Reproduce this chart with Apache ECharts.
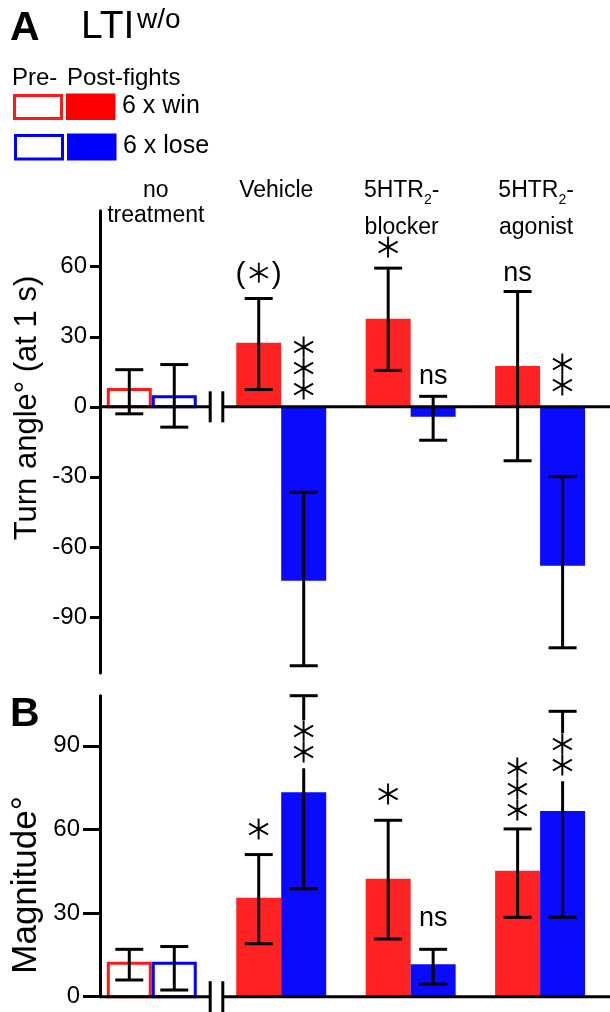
<!DOCTYPE html>
<html><head><meta charset="utf-8">
<script src="https://cdn.jsdelivr.net/npm/echarts@6/dist/echarts.min.js"></script>
<style>html,body{margin:0;padding:0;background:#fff}#c{width:610px;height:1012px}</style>
</head><body><div id="c"></div>
<script>
// ---------- data ----------
const categories = ['no\ntreatment', 'Vehicle', '5HTR₂-\nblocker', '5HTR₂-\nagonist'];
// Panel A: turn angle (deg, at 1 s); group 0 = pre-fights, others post-fights
const turnWin      = [8.1, 27.4, 37.7, 17.5];
const turnWinLow   = [-3.0, 7.4, 15.6, -23.1];
const turnWinHigh  = [15.9, 46.4, 59.4, 49.4];
const turnLose     = [5.0, -74.5, -4.3, -68.1];
const turnLoseLow  = [-8.7, -110.9, -14.3, -103.2];
const turnLoseHigh = [18.1, -36.6, 4.5, -29.9];
const turnWinSig   = ['', '(∗)', '∗', 'ns'];
const turnLoseSig  = ['', '∗\n∗\n∗', 'ns', '∗\n∗'];
const turnWinSigAt = [null, 56.5, 67.2, 57.0];
const turnLoseSigAt= [null, 15.6, 13.1, 12.9];
// Panel B: magnitude (deg)
const magWin      = [12.5, 35.5, 42.3, 45.2];
const magWinLow   = [6.0, 19.0, 20.7, 28.5];
const magWinHigh  = [17.0, 51.0, 63.3, 60.2];
const magLose     = [12.5, 73.4, 11.6, 66.6];
const magLoseLow  = [2.4, 38.7, 4.5, 28.5];
const magLoseHigh = [18.0, 108.0, 17.0, 102.4];
const magWinSig   = ['', '∗', '∗', '∗\n∗\n∗'];
const magLoseSig  = ['', '∗\n∗', 'ns', '∗\n∗'];
const magWinSigAt = [null, 59.2, 71.7, 73.6];
const magLoseSigAt= [null, 90.6, 27.9, 85.9];
const turnTicks = [-90, -60, -30, 0, 30, 60];
const magTicks  = [0, 30, 60, 90];

// ---------- style ----------
const RED = '#ff2222', BLUE = '#0a0aff';
const FONT = '"Liberation Sans", Arial, "DejaVu Sans", sans-serif';
const STAR_FONT = '"DejaVu Sans ExtraLight", "DejaVu Sans", sans-serif';
const XMIN = -0.4, XMAX = 3.54, BAR_UNITS = 0.3475, CAP = 14, BREAK_AT = 0.5;
const LABEL_NUDGE = [4, -5, -9, -4];

function buildData(win, winLo, winHi, lose, loseLo, loseHi) {
  const d = [];
  for (let i = 0; i < categories.length; i++) {
    d.push([i, 0, win[i], winLo[i], winHi[i]]);
    d.push([i, 1, lose[i], loseLo[i], loseHi[i]]);
  }
  return d;
}

function sigStyle(t) {
  if (t.indexOf('ns') >= 0) return {text: t, fontSize: 27, lineHeight: 26, family: FONT, weight: 'normal', lw: 0};
  if (t.indexOf('(') >= 0) return {text: '(' + '{st|∗}' + ')', fontSize: 30, lineHeight: 30, family: FONT, weight: 'normal', lw: 0};
  return {text: t, fontSize: 44, lineHeight: 21, family: STAR_FONT, weight: 200, lw: 0.9};
}

function barRenderer(sigs, sigAts) {
  return function (params, api) {
    const g = api.value(0), side = api.value(1), v = api.value(2), lo = api.value(3), hi = api.value(4);
    const bw = api.size([BAR_UNITS, 0])[0];
    const base = api.coord([g, 0]);
    const x0 = side === 0 ? base[0] - bw : base[0];
    const pv = api.coord([g, v]);
    const top = Math.min(pv[1], base[1]), h = Math.abs(pv[1] - base[1]);
    const color = side === 0 ? RED : BLUE;
    const cx = x0 + bw / 2;
    const yl = api.coord([g, lo])[1], yh = api.coord([g, hi])[1];
    const ch = [];
    if (g === 0) {
      ch.push({type: 'rect', shape: {x: x0 + 1.5, y: top + 1.5, width: bw - 3, height: h - 1.5},
        style: {fill: '#fff', stroke: side === 0 ? '#ff1a1a' : '#0000ff', lineWidth: 3}});
    } else {
      ch.push({type: 'rect', shape: {x: x0, y: top, width: bw, height: h}, style: {fill: color}});
    }
    const ls = {stroke: '#000', lineWidth: 3};
    ch.push({type: 'line', shape: {x1: cx, y1: yl, x2: cx, y2: yh}, style: ls});
    ch.push({type: 'line', shape: {x1: cx - CAP, y1: yl, x2: cx + CAP, y2: yl}, style: ls});
    ch.push({type: 'line', shape: {x1: cx - CAP, y1: yh, x2: cx + CAP, y2: yh}, style: ls});
    const s = sigs[side][g];
    if (s) {
      const p = api.coord([g, sigAts[side][g]]);
      const st = sigStyle(s);
      const style = {text: st.text, fontFamily: st.family, fontSize: st.fontSize,
        fontWeight: st.weight, lineHeight: st.lineHeight, fill: '#000', align: 'center', verticalAlign: 'middle',
        backgroundColor: '#fff', padding: [3, 0],
        rich: {st: {fontFamily: STAR_FONT, fontWeight: 200, fontSize: 42, lineHeight: 30, stroke: '#000', lineWidth: 0.8}}};
      if (st.lw) { style.stroke = '#000'; style.lineWidth = st.lw; }
      ch.push({type: 'text', x: cx, y: p[1], z2: 10, style: style});
    }
    return {type: 'group', children: ch};
  };
}

function frameRenderer() {
  return function (params, api) {
    const a = api.coord([XMIN, 0]), b = api.coord([XMAX, 0]), m = api.coord([BREAK_AT, 0]);
    const ls = {stroke: '#000', lineWidth: 3};
    const gap = 6.3;
    return {type: 'group', children: [
      {type: 'line', shape: {x1: a[0], y1: a[1], x2: m[0] - gap, y2: m[1]}, style: ls},
      {type: 'line', shape: {x1: m[0] + gap, y1: m[1], x2: b[0], y2: b[1]}, style: ls},
      {type: 'line', shape: {x1: m[0] - gap, y1: m[1] - 15.5, x2: m[0] - gap, y2: m[1] + 15.5}, style: ls},
      {type: 'line', shape: {x1: m[0] + gap, y1: m[1] - 15.5, x2: m[0] + gap, y2: m[1] + 15.5}, style: ls}
    ]};
  };
}

function catRenderer(params, api) {
  const i = api.value(0);
  const p = api.coord([i, 84]);
  const t = categories[i];
  let text = t;
  if (t.indexOf('₂') >= 0) {
    const lines = t.split('\n');
    text = lines[0].replace('₂', '{s|2}') + '\n{l|' + lines[1] + '}';
  }
  return {type: 'text', x: p[0] + LABEL_NUDGE[i], y: p[1] - 33, style: {
    text: text, fontFamily: FONT, fontSize: 23, lineHeight: 25, fill: '#000',
    align: 'center', verticalAlign: 'top',
    rich: {
      s: {fontSize: 14, fontFamily: FONT, padding: [15, 0, 0, 0], lineHeight: 14, verticalAlign: 'top'},
      l: {fontSize: 23, fontFamily: FONT, lineHeight: 50}
    }
  }};
}

const chart = echarts.init(document.getElementById('c'), null, {renderer: 'canvas'});

const yBase = {
  type: 'value',
  axisLine: {show: true, onZero: false, lineStyle: {color: '#000', width: 3}},
  splitLine: {show: false}
};
const labelBase = {color: '#000', fontFamily: FONT, fontSize: 24};

chart.setOption({
  animation: false,
  backgroundColor: '#fff',
  grid: [
    {left: 100, right: 0, top: 210.7, height: 462.3},
    {left: 100, right: 0, top: 695.7, height: 301}
  ],
  xAxis: [
    {gridIndex: 0, type: 'value', min: XMIN, max: XMAX, show: false},
    {gridIndex: 1, type: 'value', min: XMIN, max: XMAX, show: false}
  ],
  yAxis: [
    Object.assign({}, yBase, {gridIndex: 0, min: -114, max: 84,
      axisTick: {show: true, length: 10, lineStyle: {color: '#000', width: 3}, customValues: turnTicks},
      axisLabel: Object.assign({}, labelBase, {margin: 13, customValues: turnTicks})}),
    Object.assign({}, yBase, {gridIndex: 1, min: 0, max: 108,
      axisTick: {show: true, length: 17, lineStyle: {color: '#000', width: 3}, customValues: magTicks},
      axisLabel: Object.assign({}, labelBase, {margin: 20, customValues: magTicks})})
  ],
  series: [
    {type: 'custom', name: 'Turn angle', xAxisIndex: 0, yAxisIndex: 0, z: 2,
      data: buildData(turnWin, turnWinLow, turnWinHigh, turnLose, turnLoseLow, turnLoseHigh),
      renderItem: barRenderer([turnWinSig, turnLoseSig], [turnWinSigAt, turnLoseSigAt])},
    {type: 'custom', name: 'Magnitude', xAxisIndex: 1, yAxisIndex: 1, z: 2,
      data: buildData(magWin, magWinLow, magWinHigh, magLose, magLoseLow, magLoseHigh),
      renderItem: barRenderer([magWinSig, magLoseSig], [magWinSigAt, magLoseSigAt])},
    {type: 'custom', xAxisIndex: 0, yAxisIndex: 0, z: 3, data: [[0]], renderItem: frameRenderer()},
    {type: 'custom', xAxisIndex: 1, yAxisIndex: 1, z: 3, data: [[0]], renderItem: frameRenderer()},
    {type: 'custom', xAxisIndex: 0, yAxisIndex: 0, z: 3, data: categories.map((c, i) => [i]), renderItem: catRenderer}
  ],
  graphic: [
    {type: 'text', left: 10, top: 8, style: {text: 'A', fontFamily: FONT, fontSize: 41, fontWeight: 'bold', fill: '#000'}},
    {type: 'text', left: 81, top: 8, style: {text: 'LTI', fontFamily: FONT, fontSize: 39, fill: '#000'}},
    {type: 'text', left: 137, top: 6, style: {text: 'w/o', fontFamily: FONT, fontSize: 28, fill: '#000'}},
    {type: 'text', left: 12, top: 66, style: {text: 'Pre-', fontFamily: FONT, fontSize: 24, fill: '#000'}},
    {type: 'text', left: 67, top: 66, style: {text: 'Post-fights', fontFamily: FONT, fontSize: 24, fill: '#000'}},
    {type: 'rect', shape: {x: 14.5, y: 95.5, width: 47, height: 23}, style: {fill: '#fff', stroke: '#ff1a1a', lineWidth: 3}},
    {type: 'rect', shape: {x: 66, y: 93.5, width: 49.5, height: 26.5}, style: {fill: '#ff0000'}},
    {type: 'text', left: 122, top: 94, style: {text: '6 x win', fontFamily: FONT, fontSize: 25, fill: '#000'}},
    {type: 'rect', shape: {x: 15.5, y: 135.5, width: 47, height: 23.5}, style: {fill: '#fff', stroke: '#0000ff', lineWidth: 3}},
    {type: 'rect', shape: {x: 67, y: 133.5, width: 49.5, height: 27}, style: {fill: '#0000ff'}},
    {type: 'text', left: 123, top: 134, style: {text: '6 x lose', fontFamily: FONT, fontSize: 25, fill: '#000'}},
    {type: 'text', x: 27, y: 408, rotation: Math.PI / 2, style: {text: 'Turn angle° (at 1 s)', fontFamily: FONT, fontSize: 31, fill: '#000', align: 'center', verticalAlign: 'middle'}},
    {type: 'text', left: 10, top: 694, style: {text: 'B', fontFamily: FONT, fontSize: 41, fontWeight: 'bold', fill: '#000'}},
    {type: 'text', x: 26, y: 885, rotation: Math.PI / 2, style: {text: 'Magnitude°', fontFamily: FONT, fontSize: 35, fill: '#000', align: 'center', verticalAlign: 'middle'}}
  ]
});
</script>
</body></html>
